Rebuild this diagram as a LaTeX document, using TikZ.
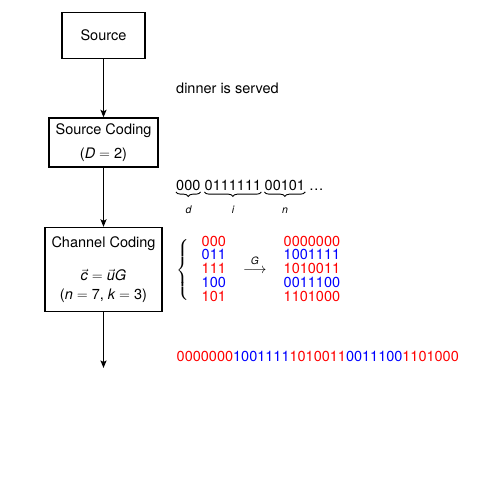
\documentclass[tikz,border=0pt]{standalone}
\usepackage{amsmath}
\usepackage{fontspec}
\setmainfont{TeX Gyre Heros}
\usetikzlibrary{arrows.meta,decorations.pathreplacing}
\newcommand{\mi}[1]{\textit{#1}}
\definecolor{bitred}{RGB}{255,0,0}
\definecolor{bitblue}{RGB}{0,0,255}
\begin{document}
\begin{tikzpicture}[x=1pt,y=-1pt,
  every node/.style={font=\fontsize{14.5}{20}\selectfont},
  box/.style={draw, line width=1.3pt, align=center, inner sep=0pt},
  txt/.style={anchor=base west, inner sep=0pt},
  lbl/.style={anchor=base, inner sep=0pt, font=\fontsize{10.5}{12}\selectfont\itshape},
  ubrace/.style={decorate, decoration={brace, mirror, amplitude=4.5pt}, line width=0.9pt},
  arr/.style={line width=1.5pt, -{Stealth[length=7.5pt,width=6pt,inset=1.5pt]}},
  rb/.style={txt, text=bitred},
  bb/.style={txt, text=bitblue}]
\useasboundingbox (0,0) rectangle (501,484);
% boxes
\node[box, minimum width=83pt, minimum height=45.5pt] (src) at (103.5,35.5) {Source};
\node[box, minimum width=109pt, minimum height=49pt] (sc) at (103.5,142.5) {Source Coding\\[4pt]($\mi{D} = \mbox{2}$)};
\node[box, minimum width=117pt, minimum height=84pt] (cc) at (103.5,269.5) {Channel Coding\\[13pt]$\vec{\mi{c}} = \vec{\mi{u}}\mi{G}$\\[-1.5pt]($\mi{n} = \mbox{7}$, $\mi{k} = \mbox{3}$)};
\coordinate (out) at (103.5,368);
% connectors
\draw[arr] (src) -- (sc);
\draw[arr] (sc) -- (cc);
\draw[arr] (cc) -- (out);
% texts
\node[txt] (dinner) at (176,94) {dinner is served};
\node[txt] (g1) at (176,191) {000};
\node[txt] (g2) at (204.5,191) {0111111};
\node[txt] (g3) at (264.5,191) {00101};
\node[txt] (dots) at (309,191) {\dots};
\draw[ubrace] ([yshift=-0.5pt]g1.south west) -- ([yshift=-0.5pt]g1.south east);
\draw[ubrace] ([yshift=-0.5pt]g2.south west) -- ([yshift=-0.5pt]g2.south east);
\draw[ubrace] ([yshift=-0.5pt]g3.south west) -- ([yshift=-0.5pt]g3.south east);
\node[lbl] (ld) at (188.5,214) {d};
\node[lbl] (li) at (233,214) {i};
\node[lbl] (ln) at (285,214) {n};
% code table
\node[inner sep=0pt] (brace) at (183,270) {$\left\{\vcenter{\hbox{\rule{0pt}{64pt}}}\right.$};
\node[rb] (u1) at (201.5,246) {000};
\node[bb] (u2) at (201.5,259.9) {011};
\node[rb] (u3) at (201.5,273.8) {111};
\node[bb] (u4) at (201.5,287.7) {100};
\node[rb] (u5) at (201.5,301.6) {101};
\node[txt] (garr) at (243,273) {$\stackrel{\mi{G}}{\longrightarrow}$};
\node[rb] (c1) at (283.5,246) {0000000};
\node[bb] (c2) at (283.5,259.9) {1001111};
\node[rb] (c3) at (283.5,273.8) {1010011};
\node[bb] (c4) at (283.5,287.7) {0011100};
\node[rb] (c5) at (283.5,301.6) {1101000};
% stream
\node[txt] (stream) at (176.5,361) {\textcolor{bitred}{0000000}\textcolor{bitblue}{1001111}\textcolor{bitred}{1010011}\textcolor{bitblue}{0011100}\textcolor{bitred}{1101000}};
\end{tikzpicture}
\end{document}
